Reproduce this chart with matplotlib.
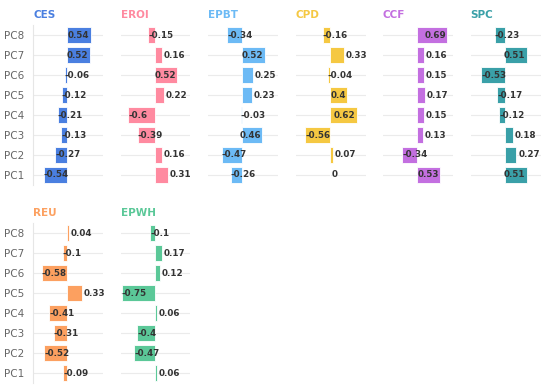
import matplotlib
matplotlib.use("Agg")
import matplotlib.pyplot as plt

components = ["PC1", "PC2", "PC3", "PC4", "PC5", "PC6", "PC7", "PC8"]

# loadings listed PC1 -> PC8
ces = [-0.54, -0.27, -0.13, -0.21, -0.12, -0.06, 0.52, 0.54]
eroi = [0.31, 0.16, -0.39, -0.6, 0.22, 0.52, 0.16, -0.15]
epbt = [-0.26, -0.47, 0.46, -0.03, 0.23, 0.25, 0.52, -0.34]
cpd = [0, 0.07, -0.56, 0.62, 0.4, -0.04, 0.33, -0.16]
ccf = [0.53, -0.34, 0.13, 0.15, 0.17, 0.15, 0.16, 0.69]
spc = [0.51, 0.27, 0.18, -0.12, -0.17, -0.53, 0.51, -0.23]
reu = [-0.09, -0.52, -0.31, -0.41, 0.33, -0.58, -0.1, 0.04]
epwh = [0.06, -0.47, -0.4, 0.06, -0.75, 0.12, 0.17, -0.1]

panels = [
    ("CES", ces, "#4a7fe0"),
    ("EROI", eroi, "#ff8aa0"),
    ("EPBT", epbt, "#6cbaf5"),
    ("CPD", cpd, "#f5c842"),
    ("CCF", ccf, "#c36fe0"),
    ("SPC", spc, "#3aa0a8"),
    ("REU", reu, "#fca060"),
    ("EPWH", epwh, "#5bc898"),
]

fig = plt.figure(figsize=(5.5, 3.92), dpi=100)

left0 = 33 / 550
w = 70 / 550
pitch = 87.5 / 550
rows = [(1 - 185 / 392, 160 / 392), (1 - 383 / 392, 160 / 392)]

for i, (name, vals, color) in enumerate(panels):
    r, c = divmod(i, 6)
    bottom, h = rows[r]
    ax = fig.add_axes([left0 + c * pitch, bottom, w, h])
    y = list(range(len(components)))
    for yy in y:
        ax.axhline(yy, color="#ebebeb", lw=0.8, zorder=0)
    ax.barh(y, vals, height=0.8, color=color, edgecolor="white", linewidth=0.6, zorder=2)
    for yy, v in zip(y, vals):
        txt = f"{v:g}"
        if v >= 0.38:
            ax.text(v - 0.03, yy, txt, ha="right", va="center", fontsize=6.3,
                    fontweight="bold", color="#333333", zorder=3)
        elif v >= 0:
            ax.text(v + 0.04, yy, txt, ha="left", va="center", fontsize=6.3,
                    fontweight="bold", color="#333333", zorder=3)
        else:
            ax.text(v, yy, txt, ha="left", va="center", fontsize=6.3,
                    fontweight="bold", color="#333333", zorder=3)
    ax.set_xlim(-0.78, 0.82)
    ax.set_ylim(-0.5, 7.5)
    ax.set_xticks([])
    for s in ["top", "right", "bottom"]:
        ax.spines[s].set_visible(False)
    if c == 0:
        ax.spines["left"].set_color("#e6e6e6")
        ax.set_yticks(y)
        ax.set_yticklabels(components, fontsize=7.5, color="#666666")
        ax.tick_params(axis="y", length=0, pad=6)
    else:
        ax.spines["left"].set_visible(False)
        ax.set_yticks([])
    ax.set_title(name, loc="left", fontsize=7.5, fontweight="bold", color=color, pad=5)

fig.savefig("out.png", dpi=100)
